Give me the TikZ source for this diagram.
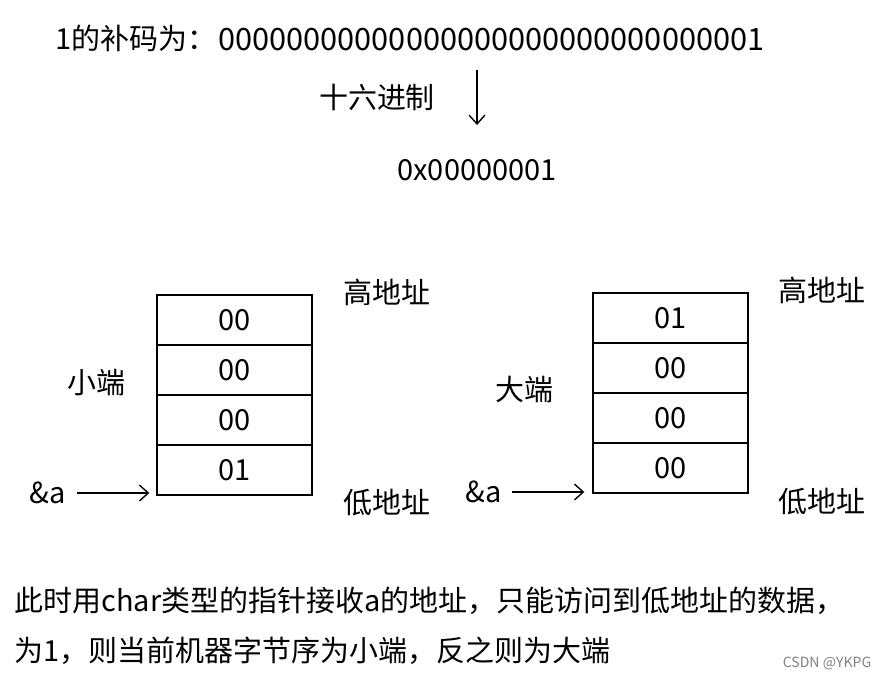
\documentclass[tikz,border=0pt]{standalone}
\usepackage{fontspec}
\setmainfont{Noto Sans CJK SC}
\usetikzlibrary{positioning,arrows.meta}
\tikzset{
  cell/.style={draw, thick, minimum width=3.1cm, minimum height=1cm, inner sep=0pt, font=\fontsize{16.5}{18}\selectfont},
  txt/.style={font=\fontsize{16.5}{18}\selectfont, inner sep=0pt},
  ptr/.style={-{Straight Barb[length=5pt,width=9pt]}, thick}
}
\begin{document}
\begin{tikzpicture}[x=0.02cm, y=-0.02cm]
\useasboundingbox (0,0) rectangle (879,679);
\node (head) [txt, anchor=west] at (55,38) {1的补码为：};
\node (bits) [txt, anchor=west, font=\fontsize{17.5}{20}\selectfont] at (218,40) {00000000000000000000000000000001};
\node (hexlabel) [txt] at (377,97) {十六进制};
\coordinate (arrtop) at (477,70);
\coordinate (arrbot) at (477,125);
\node (hex) [txt] at (477,170) {0x00000001};
\draw [ptr] (arrtop) -- (arrbot);

\node (l1) [cell] at (234.5,320) {00};
\node (l2) [cell] at (234.5,370) {00};
\node (l3) [cell] at (234.5,420) {00};
\node (l4) [cell] at (234.5,470) {01};
\node (lhigh) [txt] at (387,292) {高地址};
\node (llow) [txt] at (387,503) {低地址};
\node (little) [txt] at (96,383) {小端};
\node (la) [txt] at (48,493) {\&a};
\coordinate (lstart) at (77,493);
\draw [ptr] (lstart) -- ([xshift=-0.14cm]l4.south west |- lstart);

\node (r1) [cell] at (670.5,318) {01};
\node (r2) [cell] at (670.5,368) {00};
\node (r3) [cell] at (670.5,418) {00};
\node (r4) [cell] at (670.5,468) {00};
\node (rhigh) [txt] at (822,290) {高地址};
\node (rlow) [txt] at (822,502) {低地址};
\node (big) [txt] at (524,390) {大端};
\node (ra) [txt] at (484,492) {\&a};
\coordinate (rstart) at (512,492);
\draw [ptr] (rstart) -- ([xshift=-0.16cm]r4.south west |- rstart);

\node (line1) [txt, anchor=west] at (14,601) {此时用char类型的指针接收a的地址，只能访问到低地址的数据，};
\node (line2) [txt, anchor=west] at (14,651) {为1，则当前机器字节序为小端，反之则为大端};
\node (mark) [font=\fontsize{8}{9}\selectfont, text=gray, inner sep=0pt] at (827,663) {CSDN @YKPG};
\end{tikzpicture}
\end{document}
